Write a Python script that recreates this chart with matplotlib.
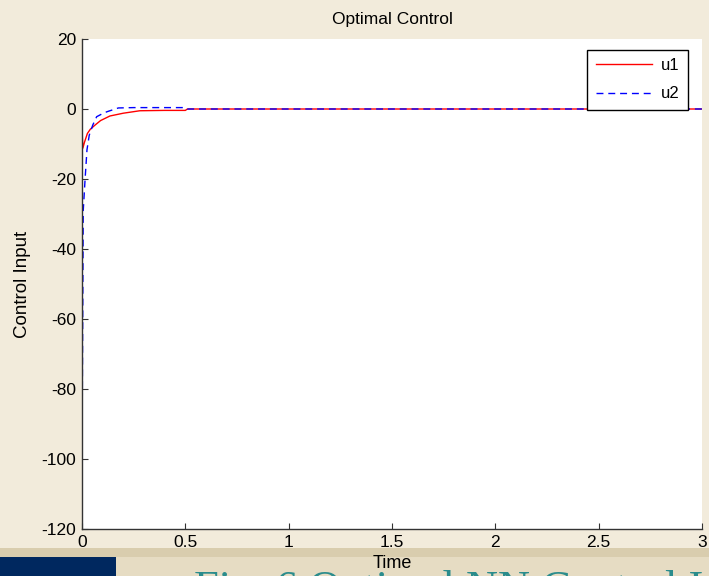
import numpy as np
import matplotlib.pyplot as plt
from matplotlib.patches import Rectangle

plt.rcParams['font.family'] = ['Liberation Sans', 'DejaVu Sans']

# 控制输入采样
t = [0, 0.004, 0.012, 0.026, 0.04, 0.063, 0.09, 0.135, 0.2, 0.28, 0.4, 0.5, 0.51, 1.0, 2.0, 3.0]
u1 = [-5.5, -11.2, -9.5, -7.0, -5.8, -4.6, -3.3, -2.0, -1.2, -0.5, -0.4, -0.4, 0, 0, 0, 0]

t2 = [0, 0.006, 0.015, 0.024, 0.035, 0.052, 0.071, 0.1, 0.12, 0.176, 0.25, 0.4, 0.5, 0.51, 1.0, 2.0, 3.0]
u2 = [-100, -29, -20, -11.7, -7.5, -4.6, -2.2, -1.3, -0.8, 0.3, 0.4, 0.4, 0.4, 0, 0, 0, 0]

xticks = [0, 0.5, 1, 1.5, 2, 2.5, 3]
yticks = [20, 0, -20, -40, -60, -80, -100, -120]

W, H = 709, 576
fig = plt.figure(figsize=(W / 100, H / 100), dpi=100)
fig.patch.set_facecolor('#f2ebdb')

# 底部装饰条
fig.add_artist(Rectangle((0, 0), 1, 28 / H, transform=fig.transFigure,
                         facecolor='#e6dcc3', edgecolor='none', zorder=0))
fig.add_artist(Rectangle((0, 19 / H), 1, 9 / H, transform=fig.transFigure,
                         facecolor='#d9cdae', edgecolor='none', zorder=0))
fig.add_artist(Rectangle((0, 0), 116 / W, 19 / H, transform=fig.transFigure,
                         facecolor='#00285f', edgecolor='none', zorder=1))
fig.text(194 / W, -25 / H, 'Fig. 6 Optimal NN Control Input', family='Liberation Serif',
         fontsize=32, color='#2a8c8c', va='baseline', ha='left', zorder=1)

ax = fig.add_axes([82 / W, 47 / H, 620 / W, 490 / H])
ax.set_facecolor('white')

ax.plot(t, u1, color='#ff0000', lw=1.0, label='u1')
ax.plot(t2, u2, color='#0000ff', lw=1.0, ls=(0, (5, 3.5)), label='u2')

ax.set_xlim(0, 3)
ax.set_ylim(-120, 20)
ax.set_xticks(xticks)
ax.set_xticklabels([f'{v:g}' for v in xticks])
ax.set_yticks(yticks)
ax.set_yticklabels([f'{v:g}' for v in yticks])
ax.tick_params(direction='in', length=4, labelsize=12.5, pad=4, color='#333333')

for s in ['top', 'right']:
    ax.spines[s].set_visible(False)
for s in ['left', 'bottom']:
    ax.spines[s].set_color('#333333')
    ax.spines[s].set_linewidth(1.0)

ax.set_title('Optimal Control', fontsize=12.5, pad=11)
ax.set_xlabel('Time', fontsize=13, labelpad=4)
ax.set_ylabel('Control Input', fontsize=13.5, labelpad=8)

leg = ax.legend(loc='upper right', bbox_to_anchor=(0.977, 0.978), fontsize=12,
                fancybox=False, framealpha=1, edgecolor='black', handlelength=3.4,
                handletextpad=0.5, borderpad=0.5, labelspacing=0.8, borderaxespad=0)
leg.get_frame().set_linewidth(1.0)

fig.savefig('out.png', dpi=100, facecolor=fig.get_facecolor())
